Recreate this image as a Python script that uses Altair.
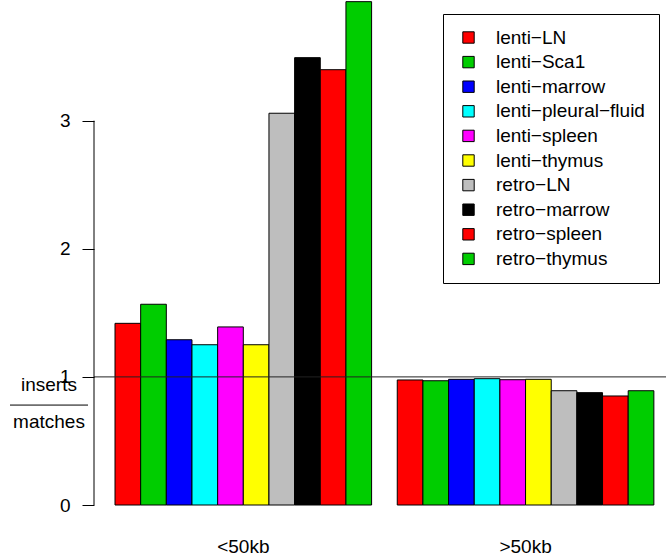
import altair as alt
import pandas as pd

series = ["lenti−LN", "lenti−Sca1", "lenti−marrow", "lenti−pleural−fluid", "lenti−spleen",
          "lenti−thymus", "retro−LN", "retro−marrow", "retro−spleen", "retro−thymus"]
colors = ["#FF0000", "#00CD00", "#0000FF", "#00FFFF", "#FF00FF",
          "#FFFF00", "#BEBEBE", "#000000", "#FF0000", "#00CD00"]
groups = ["<50kb", ">50kb"]
vals_lt50 = [1.418, 1.567, 1.290, 1.251, 1.390, 1.251, 3.058, 3.492, 3.398, 3.929]
vals_gt50 = [0.976, 0.970, 0.981, 0.986, 0.978, 0.981, 0.892, 0.877, 0.851, 0.892]
y_ticks = [0, 1, 2, 3]
ref_value = 1

FONT = "Liberation Sans"
FS = 19

rows = []
for g, vals in enumerate([vals_lt50, vals_gt50]):
    for i, (s, v) in enumerate(zip(series, vals)):
        u = 1 + g * (len(series) + 1) + i
        rows.append({"group": groups[g], "series": s, "value": v, "x": u, "x2": u + 1})
df = pd.DataFrame(rows)

grp_df = pd.DataFrame({
    "group": groups,
    "xc": [1 + g * (len(series) + 1) + len(series) / 2 for g in range(len(groups))],
})
tick_df = pd.DataFrame({"lo": [min(y_ticks)], "hi": [max(y_ticks)]})
ref_df = pd.DataFrame({"y": [ref_value]})

xscale = alt.Scale(domain=[0.1816, 22.473], nice=False, zero=False)
yscale = alt.Scale(domain=[0, 3.942], nice=False, zero=True)

bars = alt.Chart(df).mark_rect(stroke="black", strokeWidth=1).encode(
    x=alt.X("x:Q", scale=xscale, axis=None),
    x2="x2:Q",
    y=alt.Y("value:Q", scale=yscale,
            axis=alt.Axis(values=y_ticks, title=None, domain=False, grid=False,
                          tickSize=12, tickColor="black", labelColor="black",
                          labelFont=FONT, labelFontSize=FS, labelPadding=12, format="d")),
    y2=alt.datum(0),
    fill=alt.Fill("series:N",
                  scale=alt.Scale(domain=series, range=colors),
                  legend=alt.Legend(title=None, orient="none", legendX=349, legendY=14,
                                    strokeColor="black", fillColor="white", padding=14,
                                    symbolType="square", symbolSize=130, symbolOffset=2,
                                    symbolStrokeColor="black", symbolStrokeWidth=1,
                                    symbolOpacity=1,
                                    labelFont=FONT, labelFontSize=FS, labelColor="black",
                                    labelOffset=18, rowPadding=4.6, labelLimit=300)),
)

axis_line = alt.Chart(tick_df).mark_rule(color="black", strokeWidth=1).encode(
    x=alt.value(0),
    y=alt.Y("lo:Q", scale=yscale),
    y2="hi:Q",
)

ref_line = alt.Chart(ref_df).mark_rule(color="#222222", strokeWidth=1).encode(
    x=alt.value(0),
    x2=alt.value(572),
    y=alt.Y("y:Q", scale=yscale),
)

grp_labels = alt.Chart(grp_df).mark_text(font=FONT, fontSize=FS, color="black",
                                         baseline="middle", align="center").encode(
    x=alt.X("xc:Q", scale=xscale),
    y=alt.value(547),
    text="group:N",
)

ylab_df = pd.DataFrame({"t": ["inserts", "matches"], "y": [0.937, 0.648]})
ylab = alt.Chart(ylab_df).mark_text(font=FONT, fontSize=FS, color="black",
                                    baseline="middle", align="center").encode(
    x=alt.value(-45),
    y=alt.Y("y:Q", scale=yscale),
    text="t:N",
)
frac_df = pd.DataFrame({"y": [0.78]})
frac = alt.Chart(frac_df).mark_rule(color="black", strokeWidth=1).encode(
    x=alt.value(-84),
    x2=alt.value(-6),
    y=alt.Y("y:Q", scale=yscale),
)

chart = alt.layer(bars, ref_line, axis_line, grp_labels, ylab, frac).properties(
    width=572, height=505,
    autosize=alt.AutoSizeParams(type="none"),
    padding={"left": 94, "top": 0, "right": 0, "bottom": 51},
    background="white",
).configure_view(stroke=None)

chart.save("out.html", embed_options={"renderer": "svg", "actions": False})
